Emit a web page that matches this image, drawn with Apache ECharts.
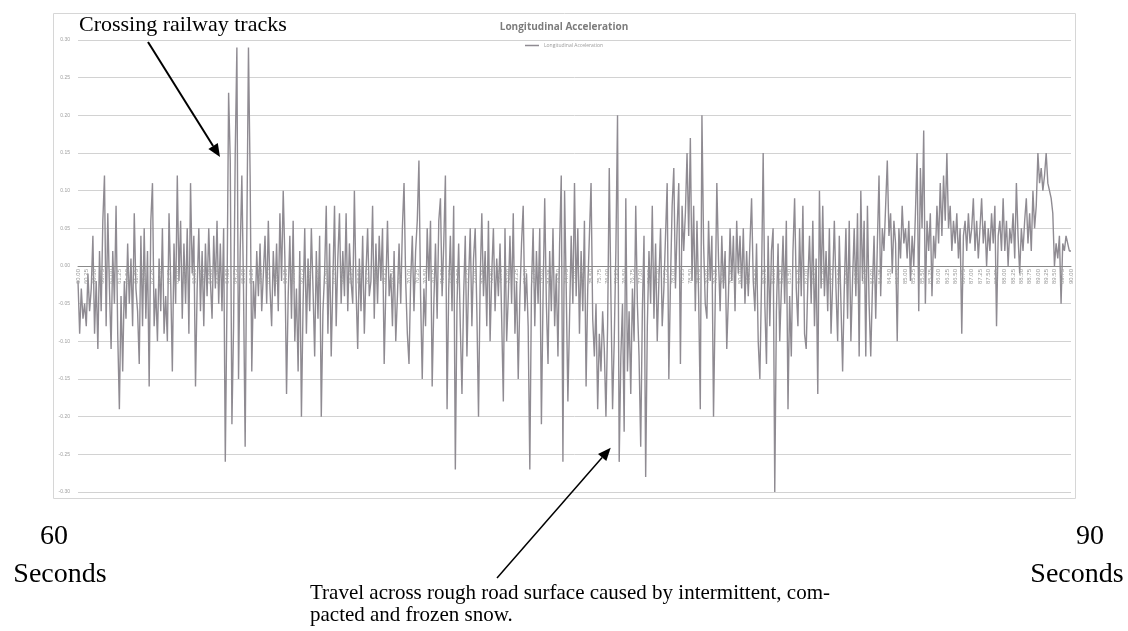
<!DOCTYPE html>
<html>
<head>
<meta charset="utf-8">
<script src="https://cdn.jsdelivr.net/npm/echarts@6/dist/echarts.min.js"></script>
<style>html,body{margin:0;padding:0;background:#fff;}#chart{width:1128px;height:631px;}</style>
</head>
<body>
<div id="chart"></div>
<script>
var START_TIME = 60;
var SAMPLE_STEP = 0.05;
var acc60to65 = [
 -0.02,-0.09,-0.03,-0.07,-0.05,-0.08,-0.01,-0.06,-0.03,0.04,-0.09,-0.02,-0.11,0.02,-0.06,0.06,0.12,-0.08,0.07,-0.03,
 -0.11,0.02,-0.05,0.08,-0.09,-0.19,-0.04,-0.14,-0.02,-0.07,0.03,-0.05,0.01,-0.08,0.07,-0.03,-0.06,-0.13,0.04,-0.08,
 0.05,-0.07,0.02,-0.16,0.06,0.11,-0.08,-0.03,-0.10,0.01,-0.06,0.05,-0.09,-0.04,-0.10,0.07,-0.02,-0.14,0.03,-0.05,
 0.12,-0.02,0.06,-0.07,0.03,-0.05,0.05,-0.09,0.11,-0.01,0.04,-0.16,-0.03,0.05,-0.06,0.02,-0.08,0.03,-0.04,0.05,
 -0.02,-0.07,0.04,-0.03,0.06,-0.05,0.03,-0.06,0.05,-0.26,-0.05,0.23,0.14,-0.21,-0.08,0.15,0.29,-0.15,0.02,0.12
];
var acc65to70 = [
 -0.03,-0.24,0.04,0.29,0.12,-0.14,-0.02,-0.07,0.02,-0.04,0.03,-0.06,-0.01,0.04,-0.05,0.06,-0.03,-0.08,0.02,-0.04,
 0.03,-0.06,0.07,-0.02,0.10,0.01,-0.17,-0.04,0.04,-0.07,0.06,-0.10,-0.03,-0.14,0.02,-0.20,-0.05,0.05,-0.09,0.01,
 -0.06,0.05,-0.03,-0.12,0.02,-0.07,0.04,-0.20,-0.06,-0.01,0.08,-0.09,0.03,-0.12,-0.02,0.08,-0.08,0.01,0.07,-0.05,
 0.02,-0.04,0.07,-0.06,0.03,-0.02,-0.05,0.10,-0.03,-0.11,0.01,-0.06,0.04,-0.09,-0.01,0.05,-0.04,-0.02,0.08,-0.07,
 0.03,-0.05,0.04,-0.02,0.05,-0.13,-0.03,0.06,-0.04,-0.01,-0.08,0.02,-0.10,-0.04,0.03,-0.05,0.05,0.11,-0.02,-0.09
];
var acc70to75 = [
 -0.13,-0.02,0.04,-0.06,0.02,0.06,0.14,-0.04,-0.15,-0.03,-0.08,0.05,-0.02,0.06,-0.16,-0.05,0.03,-0.07,0.06,0.09,
 -0.04,0.03,0.12,-0.19,-0.03,0.04,-0.06,0.08,-0.27,-0.05,0.03,-0.08,-0.17,-0.04,0.04,-0.12,-0.02,0.05,-0.08,0.01,
 0.05,-0.06,-0.20,-0.02,0.07,-0.04,0.02,-0.08,0.06,-0.10,-0.01,0.05,-0.06,0.01,-0.04,0.03,-0.07,-0.18,0.05,-0.10,
 -0.04,0.04,-0.05,0.07,-0.09,-0.02,-0.15,-0.04,0.03,0.08,-0.06,-0.01,-0.08,-0.27,-0.03,0.05,-0.08,0.02,-0.05,0.05,
 -0.21,-0.04,0.09,-0.05,-0.13,0.02,-0.06,0.05,-0.08,-0.01,-0.12,0.03,0.12,-0.26,0.10,-0.03,-0.18,-0.07,0.04,-0.05
];
var acc75to80 = [
 0.11,-0.04,0.05,-0.09,0.02,-0.06,0.06,-0.16,-0.03,0.04,0.11,-0.07,-0.12,-0.05,-0.19,-0.09,-0.14,-0.06,-0.11,-0.20,
 -0.08,0.13,-0.04,-0.19,-0.10,0.02,0.20,-0.26,-0.12,-0.05,-0.22,0.09,-0.14,-0.06,-0.17,-0.03,-0.10,0.08,-0.05,-0.12,
 -0.24,-0.06,0.04,-0.28,-0.08,0.02,-0.05,0.08,-0.07,0.03,-0.10,-0.02,0.05,-0.08,-0.03,0.04,0.11,-0.15,-0.02,0.08,
 0.13,-0.03,0.05,0.11,-0.13,0.08,0.02,0.07,0.15,0.04,0.17,-0.02,0.08,-0.06,0.06,-0.04,-0.19,0.20,0.03,-0.05,
 -0.07,0.06,-0.02,0.04,-0.20,-0.05,0.11,0.01,-0.06,0.04,-0.03,0.02,-0.11,-0.04,0.05,-0.02,0.04,-0.06,0.06,-0.01
];
var acc80to85 = [
 0.04,-0.03,0.05,-0.05,0.02,-0.04,0.03,0.09,-0.02,-0.06,0.03,-0.10,-0.15,-0.02,0.15,-0.05,-0.13,0.04,-0.08,0.02,
 0.05,-0.30,-0.06,0.03,-0.10,-0.03,0.04,-0.05,0.06,-0.19,-0.04,-0.12,0.02,0.09,-0.03,-0.08,0.05,-0.04,0.08,-0.09,
 -0.11,-0.02,0.04,-0.05,0.06,-0.08,0.01,-0.17,0.10,-0.03,0.08,-0.04,0.02,-0.06,0.05,-0.09,-0.02,0.06,-0.03,-0.10,
 0.04,-0.05,-0.14,-0.03,0.05,-0.07,0.06,-0.10,-0.02,0.05,-0.04,0.07,-0.12,0.10,-0.02,0.06,-0.12,0.08,-0.05,-0.12,
 -0.03,0.04,-0.07,0.03,0.12,-0.04,0.05,0.02,0.08,0.14,0.04,0.07,-0.01,0.06,0.03,-0.10,0.05,0.01,0.08,0.03
];
var acc85to90 = [
 0.05,0.01,0.06,-0.02,0.04,0.00,0.07,0.15,-0.06,0.13,0.05,0.18,-0.05,0.06,0.02,0.07,-0.04,0.04,0.01,0.08,
 0.03,0.11,0.04,0.12,0.06,0.15,0.05,0.08,0.02,0.06,0.03,0.07,0.01,0.05,-0.09,0.04,0.06,0.02,0.07,0.03,
 0.05,0.09,0.02,0.06,0.01,0.05,0.09,0.03,0.06,0.00,0.05,0.02,0.07,0.03,0.08,-0.08,0.04,0.06,0.02,0.09,
 0.02,0.06,0.00,0.05,0.03,0.07,0.01,0.11,0.04,-0.01,0.05,0.02,0.06,0.09,0.03,0.07,0.02,0.10,0.05,0.08,
 0.15,0.11,0.13,0.10,0.12,0.15,0.11,0.10,0.09,0.07,0.00,0.03,0.01,0.04,-0.05,0.03,0.02,0.04,0.04,0.02,
 0.02
];
var Y_MIN = -0.30, Y_MAX = 0.30, Y_STEP = 0.05;
var X_MIN = 60, X_MAX = 90, X_STEP = 0.25;

var allValues = [].concat(acc60to65, acc65to70, acc70to75, acc75to80, acc80to85, acc85to90);
var seriesData = allValues.map(function (v, i) {
  return [+(START_TIME + i * SAMPLE_STEP).toFixed(2), v];
});

var GRID_TOP = 40, GRID_BOTTOM = 139, CHART_H = 631;
var plotH = CHART_H - GRID_TOP - GRID_BOTTOM;
// move the time axis (and its labels) up to the 0.00 line, as in the Excel chart
var zeroOffset = -plotH * (0 - Y_MIN) / (Y_MAX - Y_MIN);

var chart = echarts.init(document.getElementById('chart'), null, {renderer: 'canvas'});
var serif = '"Liberation Serif", "DejaVu Serif", serif';
chart.setOption({
  animation: false,
  backgroundColor: '#ffffff',
  title: {
    text: 'Longitudinal Acceleration',
    left: 'center',
    top: 17,
    textStyle: {fontFamily: '"Open Sans", sans-serif', fontSize: 10, fontWeight: 'bold', color: '#7c7c7c'}
  },
  legend: {
    data: ['Longitudinal Acceleration'],
    top: 38,
    left: 'center',
    icon: 'rect',
    itemWidth: 14,
    itemHeight: 1.5,
    itemGap: 4,
    textStyle: {fontSize: 5, color: '#9a9a9a', fontFamily: '"Open Sans", sans-serif'}
  },
  grid: {left: 78, right: 57, top: GRID_TOP, bottom: GRID_BOTTOM, containLabel: false},
  xAxis: {
    type: 'value',
    position: 'bottom',
    offset: zeroOffset,
    z: 4,
    min: X_MIN, max: X_MAX, interval: X_STEP,
    axisLine: {onZero: false, lineStyle: {color: '#8a8a8a', width: 1}},
    axisTick: {show: false},
    splitLine: {show: false},
    axisLabel: {
      rotate: 90, fontSize: 6, color: '#9a9a9a', margin: 3,
      fontFamily: '"Liberation Sans", sans-serif',
      formatter: function (v) { return v.toFixed(2); }
    }
  },
  yAxis: {
    type: 'value',
    min: Y_MIN, max: Y_MAX, interval: Y_STEP,
    axisLine: {show: false},
    axisTick: {show: false},
    splitLine: {lineStyle: {color: '#d2d2d2', width: 1}},
    axisLabel: {
      fontSize: 5, color: '#a0a0a0', margin: 8,
      fontFamily: '"Liberation Sans", sans-serif',
      formatter: function (v) { return v.toFixed(2); }
    }
  },
  series: [{
    name: 'Longitudinal Acceleration',
    type: 'line',
    data: seriesData,
    showSymbol: false,
    symbol: 'none',
    sampling: null,
    lineStyle: {color: '#8f8b92', width: 1.4},
    itemStyle: {color: '#8f8b92'},
    z: 3
  }],
  graphic: [
    {type: 'rect', shape: {x: 53.5, y: 13.5, width: 1022, height: 485}, style: {fill: 'none', stroke: '#d6d6d6', lineWidth: 1}, z: 0, silent: true},
    {type: 'text', left: 79, top: 14, style: {text: 'Crossing railway tracks', font: '22px ' + serif, fill: '#000'}, z: 10},
    {type: 'line', shape: {x1: 148, y1: 42, x2: 213.1, y2: 146}, style: {stroke: '#000', lineWidth: 2}, z: 10},
    {type: 'polygon', shape: {points: [[220, 157], [208.4, 148.9], [217.8, 143.1]]}, style: {fill: '#000'}, z: 10},
    {type: 'line', shape: {x1: 497, y1: 578, x2: 602.1, y2: 457.5}, style: {stroke: '#000', lineWidth: 1.5}, z: 10},
    {type: 'polygon', shape: {points: [[610.7, 447.7], [606.3, 461.1], [598.0, 453.9]]}, style: {fill: '#000'}, z: 10},
    {type: 'text', x: 54, y: 537, style: {text: '60', font: '28px ' + serif, fill: '#000', textAlign: 'center', textVerticalAlign: 'middle'}, z: 10},
    {type: 'text', x: 60, y: 575, style: {text: 'Seconds', font: '28px ' + serif, fill: '#000', textAlign: 'center', textVerticalAlign: 'middle'}, z: 10},
    {type: 'text', x: 1090, y: 537, style: {text: '90', font: '28px ' + serif, fill: '#000', textAlign: 'center', textVerticalAlign: 'middle'}, z: 10},
    {type: 'text', x: 1077, y: 575, style: {text: 'Seconds', font: '28px ' + serif, fill: '#000', textAlign: 'center', textVerticalAlign: 'middle'}, z: 10},
    {type: 'text', x: 310, y: 593, style: {text: 'Travel across rough road surface caused by intermittent, com-', font: '21px ' + serif, fill: '#000', textAlign: 'left', textVerticalAlign: 'middle'}, z: 10},
    {type: 'text', x: 310, y: 615, style: {text: 'pacted and frozen snow.', font: '21px ' + serif, fill: '#000', textAlign: 'left', textVerticalAlign: 'middle'}, z: 10}
  ]
});
</script>
</body>
</html>
